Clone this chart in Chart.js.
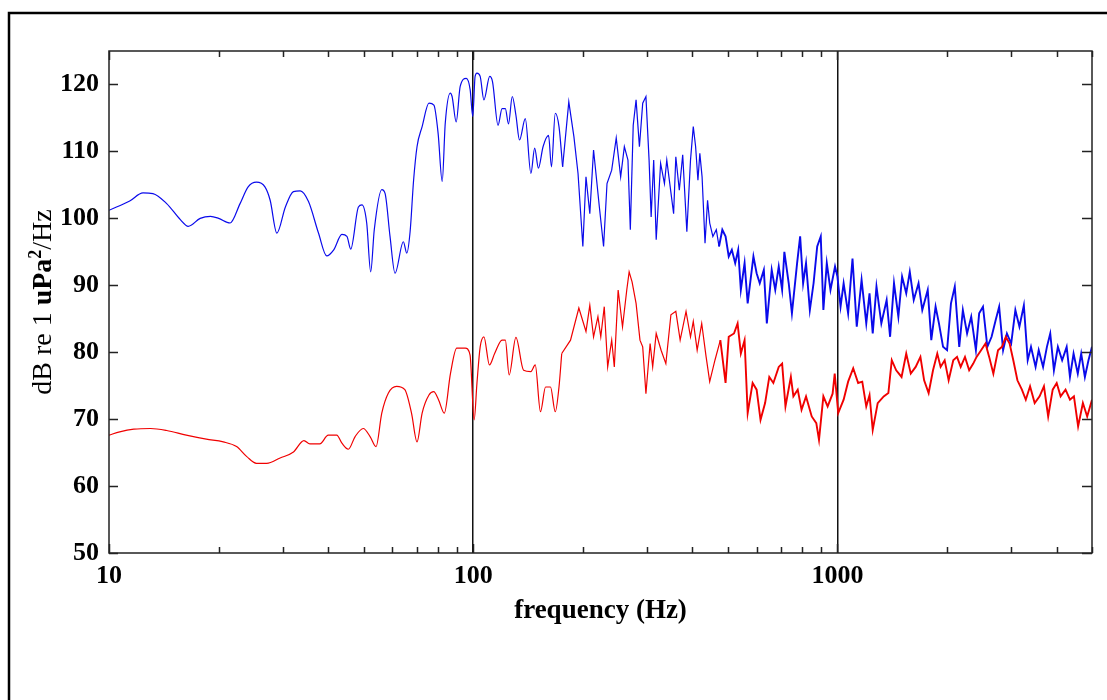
<!DOCTYPE html>
<html>
<head>
<meta charset="utf-8">
<script src="https://cdn.jsdelivr.net/npm/chart.js@4"></script>
<style>
html, body { margin: 0; padding: 0; background: #fff; }
canvas { display: block; }
</style>
</head>
<body>
<canvas id="spectrum" width="1107" height="700"></canvas>
<script>
// tick positions
const xTickValues = [10, 20, 30, 40, 50, 60, 70, 80, 90, 100, 200, 300, 400, 500, 600, 700, 800, 900, 1000, 2000, 3000, 4000, 5000];
const xTickLabels = [10, 100, 1000];
const yTickValues = [50, 60, 70, 80, 90, 100, 110, 120];

// upper (blue) spectrum
const blueFreq = [10, 11.4, 12.4, 13.2, 14.4, 15.7, 16.5, 17.8, 19, 20, 21.5, 22.9, 24.1, 25.4, 26.8, 27.7, 28.9, 30.5, 32.1, 33.5,
  35.3, 37.6, 39.6, 41.4, 43.6, 45, 46.1, 48.4, 49.5, 51, 52.3, 53.5, 56.1, 57.3, 59.1, 61, 64.3, 65.7, 67.1, 68.6,
  70.1, 72.4, 75.6, 78, 80.1, 82.2, 83.8, 86.5, 87.5, 89.8, 92.1, 95.7, 98.1, 99.7, 101.2, 102.4, 104.5, 107, 111, 113,
  117, 120, 122.5, 125, 128, 131, 134, 139, 144, 147.5, 151, 155.5, 161, 164, 168, 172, 176, 183, 189, 194,
  200, 204, 209, 214, 222, 228, 233, 240, 247, 254, 260, 266, 270, 275, 280, 286, 292, 298, 304, 308,
  313, 318, 327, 335, 340, 355, 360, 368, 376, 386, 395, 402, 408, 414, 419, 425, 433, 440, 446, 455,
  465, 473, 483, 493, 503, 513, 524, 534, 543, 556, 567, 588, 600, 612, 628, 640, 660, 675, 690, 705,
  715, 735, 750, 775, 790, 805, 820, 840, 860, 880, 900, 915, 935, 957, 985, 1000, 1020, 1040, 1070, 1100,
  1130, 1165, 1200, 1225, 1250, 1280, 1320, 1365, 1395, 1430, 1470, 1505, 1545, 1580, 1620, 1670, 1710, 1770, 1810, 1860,
  1900, 1950, 2000, 2050, 2100, 2160, 2210, 2270, 2330, 2400, 2450, 2510, 2580, 2650, 2720, 2780, 2850, 2920, 3000, 3080,
  3160, 3250, 3330, 3400, 3500, 3570, 3670, 3760, 3840, 3930, 4030, 4140, 4260, 4350, 4450, 4570, 4670, 4780, 4890, 5000];
const blueDb = [101.2, 102.6, 103.8, 103.7, 102.2, 99.8, 98.8, 100.0, 100.3, 100.0, 99.3, 102.2, 104.7, 105.4, 104.7, 102.7, 97.8, 101.7, 104.0, 104.1,
  102.5, 97.8, 94.4, 95.3, 97.6, 97.3, 95.4, 101.7, 102.0, 99.3, 92.0, 98.3, 104.3, 103.7, 97.3, 91.8, 96.5, 94.8, 98.0, 105.7,
  110.7, 113.7, 117.2, 116.9, 112.7, 105.5, 114.2, 118.7, 118.2, 114.4, 119.7, 120.9, 119.2, 115.2, 121.2, 121.7, 121.2, 117.7, 121.2, 120.4,
  113.9, 116.4, 116.4, 114.1, 118.2, 115.4, 111.7, 114.9, 106.7, 110.5, 107.5, 110.7, 112.4, 107.7, 115.7, 113.7, 107.7, 117.4, 112.2, 106.7,
  95.8, 106.2, 100.7, 110.2, 101.7, 95.8, 105.2, 107.2, 112.0, 106.2, 110.7, 108.7, 98.3, 113.9, 117.7, 110.7, 117.2, 118.2, 108.7, 100.2,
  108.7, 96.8, 108.2, 105.2, 108.7, 100.7, 109.2, 104.2, 109.5, 98.0, 108.7, 113.7, 110.7, 105.7, 109.7, 106.2, 96.3, 102.7, 99.3, 97.3,
  98.3, 95.8, 98.3, 97.3, 94.3, 95.3, 93.3, 95.3, 89.3, 93.3, 87.3, 94.3, 91.8, 90.3, 92.3, 84.3, 92.3, 89.3, 92.8, 89.3,
  95.0, 90.3, 85.8, 93.3, 97.3, 90.3, 93.3, 86.3, 90.3, 95.8, 97.3, 86.3, 93.3, 89.3, 92.8, 91.3, 86.8, 90.3, 85.8, 94.0,
  83.8, 90.8, 84.3, 88.8, 82.8, 89.8, 84.3, 87.8, 82.3, 90.3, 85.3, 91.3, 88.8, 92.0, 87.8, 90.3, 86.3, 89.3, 81.8, 86.8,
  84.3, 80.8, 80.3, 87.3, 89.8, 80.8, 86.3, 82.8, 85.3, 80.3, 85.8, 86.8, 80.8, 82.3, 84.8, 86.8, 80.3, 82.8, 81.3, 86.3,
  83.8, 87.0, 78.8, 80.8, 77.8, 80.3, 77.8, 80.8, 82.8, 77.3, 80.8, 78.8, 80.8, 76.3, 79.8, 76.8, 79.8, 76.3, 78.8, 80.8];

// lower (red) spectrum
const redFreq = [10, 10.7, 11.7, 13, 14.4, 16.3, 18.5, 20.6, 22.4, 23.9, 25.4, 27.1, 29.5, 32.1, 34.3, 35.6, 37.9, 40, 42.2, 43.6,
  45.4, 47.4, 49.9, 52.1, 54.1, 56.1, 58.5, 61.6, 64.9, 67.7, 70.1, 72.4, 75.6, 77.9, 80.3, 83.3, 86.6, 90.1, 95.1, 98,
  100.6, 102.4, 104.5, 107, 110.8, 114.5, 120, 122.5, 125.5, 131, 137.5, 144, 148, 153, 158, 163, 168, 172, 175, 185,
  195, 204, 209, 214, 220, 224, 229, 234, 240, 244, 250, 257, 264, 268, 273, 280, 287, 292, 298, 306,
  311, 318, 328, 338, 349, 360, 370, 384, 395, 402, 412, 424, 436, 446, 461, 477, 493, 503, 520, 532,
  543, 556, 567, 585, 600, 615, 633, 650, 667, 690, 705, 720, 745, 757, 778, 797, 820, 850, 875, 890,
  915, 940, 970, 983, 1005, 1040, 1070, 1105, 1140, 1170, 1200, 1225, 1250, 1290, 1340, 1380, 1410, 1450, 1500, 1545,
  1590, 1640, 1690, 1730, 1780, 1830, 1880, 1920, 1970, 2020, 2080, 2130, 2180, 2240, 2300, 2360, 2410, 2480, 2550, 2610,
  2680, 2760, 2830, 2900, 2970, 3040, 3120, 3210, 3290, 3380, 3480, 3590, 3690, 3790, 3900, 4000, 4100, 4230, 4350, 4460,
  4580, 4720, 4850, 5000];
const redDb = [67.6, 68.1, 68.5, 68.6, 68.3, 67.6, 67.0, 66.6, 65.9, 64.4, 63.4, 63.4, 64.2, 65.1, 66.8, 66.3, 66.3, 67.6, 67.6, 66.4,
  65.5, 67.4, 68.6, 67.4, 65.9, 70.9, 73.9, 74.9, 74.4, 70.9, 66.6, 70.9, 73.6, 74.1, 72.9, 70.9, 76.8, 80.6, 80.6, 79.6,
  69.9, 75.4, 80.8, 82.3, 78.1, 79.8, 81.8, 81.8, 76.6, 82.2, 77.3, 77.1, 78.1, 71.1, 74.8, 74.8, 71.1, 74.8, 79.8, 81.8,
  86.6, 83.1, 87.0, 82.3, 85.3, 82.3, 86.8, 77.8, 81.8, 77.8, 89.3, 83.8, 89.3, 92.0, 90.5, 87.3, 81.8, 80.8, 73.8, 81.3,
  77.8, 82.8, 80.3, 78.3, 85.6, 86.1, 81.8, 86.1, 82.3, 84.6, 80.3, 84.3, 79.3, 75.6, 78.8, 81.8, 75.4, 82.3, 82.8, 84.3,
  79.8, 81.8, 70.9, 75.4, 74.4, 69.9, 72.4, 76.3, 75.4, 77.8, 78.3, 71.9, 76.3, 73.4, 74.4, 71.4, 73.4, 70.4, 69.4, 66.9,
  73.4, 71.9, 73.8, 76.8, 70.9, 72.9, 75.6, 77.6, 75.4, 75.6, 71.9, 73.6, 68.4, 72.4, 73.4, 73.9, 78.8, 77.3, 76.3, 79.8,
  76.8, 77.8, 79.3, 75.8, 73.9, 77.3, 79.8, 77.8, 78.8, 75.8, 78.8, 79.3, 77.8, 79.3, 77.3, 78.3, 79.3, 80.3, 81.3, 79.3,
  76.8, 80.3, 80.8, 82.3, 81.3, 78.8, 75.8, 74.4, 72.9, 74.9, 72.4, 73.4, 74.9, 70.4, 74.4, 75.4, 73.4, 74.4, 72.9, 73.4,
  68.9, 72.4, 70.4, 72.9];

const serif = '"Liberation Serif", "Times New Roman", serif';
const tickFont = { family: serif, size: 26, weight: 'bold' };
const smoothLimit = 180;   // below this the spectra are drawn as smooth curves
const denseFrom = 470;     // above this the noise band is drawn heavier

const toPoints = (fs, vs) => fs.map((f, i) => ({ x: f, y: vs[i] }));
function splitSeries(fs, vs) {
  const pts = toPoints(fs, vs);
  const k = pts.findIndex(p => p.x > smoothLimit);
  return [pts.slice(0, k), pts.slice(k - 1)];
}
const [blueLow, blueHigh] = splitSeries(blueFreq, blueDb);
const [redLow, redHigh] = splitSeries(redFreq, redDb);
const noisyWidth = ctx => ctx.p0.parsed.x >= denseFrom ? 1.9 : 1.2;

// frame, inward ticks and axis titles
const framePlugin = {
  id: 'framePlugin',
  beforeDraw(chart) {
    const c = chart.ctx;
    c.save();
    c.fillStyle = '#fff';
    c.fillRect(0, 0, chart.width, chart.height);
    c.strokeStyle = '#000';
    c.lineWidth = 2.5;
    c.strokeRect(9, 13, chart.width + 10, chart.height + 10);
    c.restore();
  },
  afterDatasetsDraw(chart) {
    const c = chart.ctx;
    const a = chart.chartArea;
    const xs = chart.scales.x;
    const ys = chart.scales.y;
    c.save();
    c.strokeStyle = '#222';
    c.lineWidth = 1.5;
    c.strokeRect(a.left, a.top, a.right - a.left, a.bottom - a.top);
    c.beginPath();
    yTickValues.forEach(v => {
      const py = Math.round(ys.getPixelForValue(v)) + 0.5;
      c.moveTo(a.left, py); c.lineTo(a.left + 9, py);
      c.moveTo(a.right, py); c.lineTo(a.right - 10, py);
    });
    xTickValues.forEach(v => {
      const px = Math.round(xs.getPixelForValue(v)) + 0.5;
      const len = xTickLabels.includes(v) ? 9 : 6;
      c.moveTo(px, a.bottom); c.lineTo(px, a.bottom - len);
      c.moveTo(px, a.top); c.lineTo(px, a.top + len);
    });
    c.stroke();

    c.fillStyle = '#000';
    c.font = 'bold 27px ' + serif;
    c.textAlign = 'center';
    c.textBaseline = 'middle';
    c.fillText('frequency (Hz)', (a.left + a.right) / 2, 611);

    // y title: "dB re 1 uPa²/Hz"
    const parts = [
      { t: 'dB re 1 ', f: '28px ' + serif, dy: 0 },
      { t: 'uPa', f: 'bold 28px ' + serif, dy: 0 },
      { t: '2', f: 'bold 18px ' + serif, dy: -10 },
      { t: '/Hz', f: '28px ' + serif, dy: 0 }
    ];
    let total = 0;
    parts.forEach(p => { c.font = p.f; p.w = c.measureText(p.t).width; total += p.w; });
    c.translate(42, (a.top + a.bottom) / 2);
    c.rotate(-Math.PI / 2);
    c.textAlign = 'left';
    c.textBaseline = 'alphabetic';
    let x0 = -total / 2;
    parts.forEach(p => { c.font = p.f; c.fillText(p.t, x0, 9 + p.dy); x0 += p.w; });
    c.restore();
  }
};

const blue = 'rgb(10, 10, 235)';
const red = 'rgb(240, 0, 0)';

const chart = new Chart(document.getElementById('spectrum').getContext('2d'), {
  type: 'line',
  data: {
    datasets: [
      { label: 'red low', data: redLow, borderColor: red, cubicInterpolationMode: 'monotone', order: 0 },
      { label: 'red high', data: redHigh, borderColor: red, segment: { borderWidth: noisyWidth }, order: 0 },
      { label: 'blue low', data: blueLow, borderColor: blue, cubicInterpolationMode: 'monotone', order: 1 },
      { label: 'blue high', data: blueHigh, borderColor: blue, segment: { borderWidth: noisyWidth }, order: 1 }
    ]
  },
  options: {
    responsive: false,
    animation: false,
    layout: { padding: { top: 51, right: 15, left: 0, bottom: 0 } },
    elements: {
      point: { radius: 0 },
      line: { borderWidth: 1.2, tension: 0 }
    },
    plugins: {
      legend: { display: false },
      tooltip: { enabled: false }
    },
    scales: {
      x: {
        type: 'logarithmic',
        min: 10,
        max: 5000,
        afterFit: s => { s.height = 147; },
        afterBuildTicks: s => { s.ticks = xTickValues.map(v => ({ value: v })); },
        ticks: {
          autoSkip: false,
          maxRotation: 0,
          padding: 8,
          color: '#000',
          font: tickFont,
          callback: v => xTickLabels.includes(v) ? String(v) : ''
        },
        grid: {
          drawTicks: false,
          lineWidth: 1.5,
          color: ctx => (ctx.tick && xTickLabels.includes(ctx.tick.value) && ctx.tick.value !== 10) ? '#111' : 'rgba(0,0,0,0)'
        },
        border: { display: false }
      },
      y: {
        min: 50,
        max: 125,
        afterFit: s => { s.width = 109; },
        afterBuildTicks: s => { s.ticks = yTickValues.map(v => ({ value: v })); },
        ticks: {
          padding: 10,
          color: '#000',
          font: tickFont
        },
        grid: { display: false, drawTicks: false },
        border: { display: false }
      }
    }
  },
  plugins: [framePlugin]
});
</script>
</body>
</html>
